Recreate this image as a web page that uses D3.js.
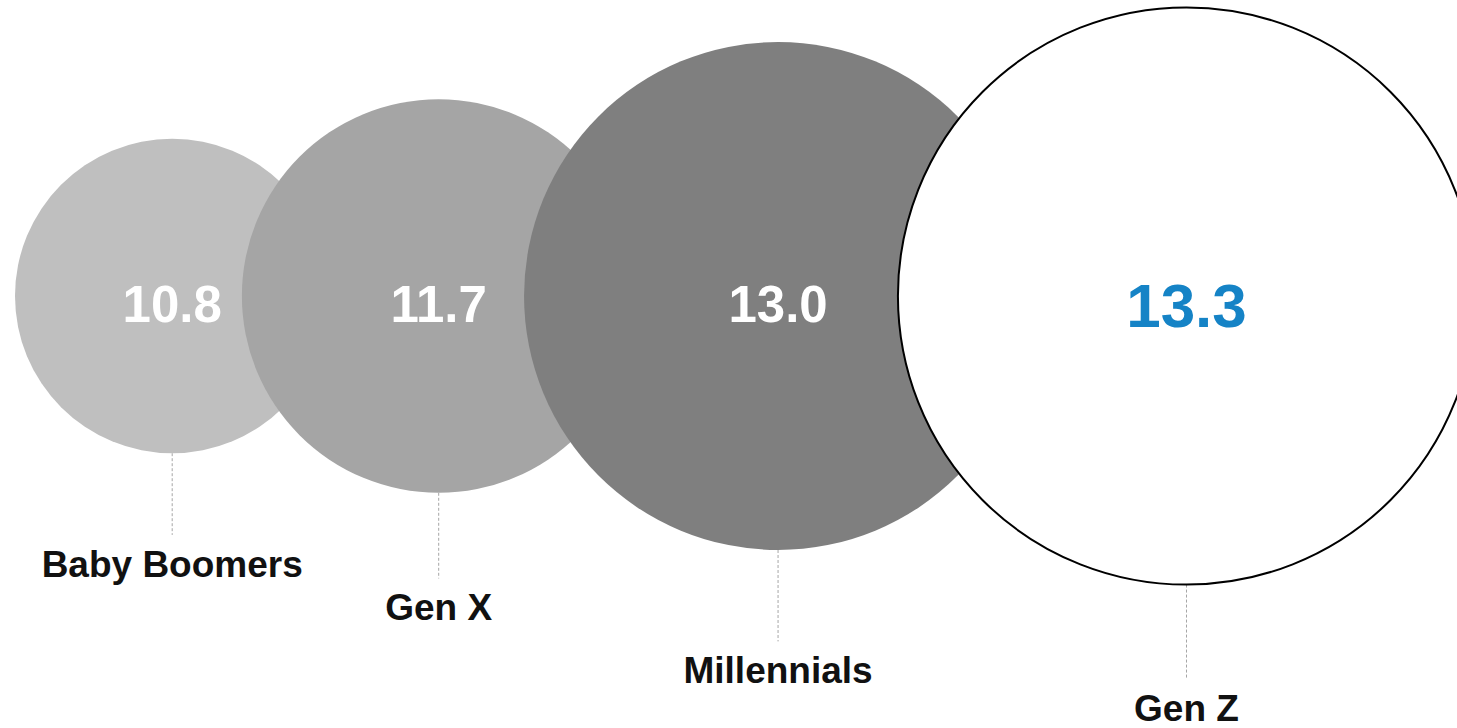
<!DOCTYPE html>
<html>
<head>
<meta charset="utf-8">
<script src="https://cdn.jsdelivr.net/npm/d3@7/dist/d3.min.js"></script>
<style>
  html, body { margin: 0; padding: 0; background: #fff; }
  svg { display: block; }
</style>
</head>
<body>
<svg id="chart" width="1457" height="728"></svg>
<script>
// Generations and their values
const generations = ["Baby Boomers", "Gen X", "Millennials", "Gen Z"];
const values = [10.8, 11.7, 13.0, 13.3];
const fills = ["#bfbfbf", "#a5a5a5", "#7f7f7f", "#ffffff"];
const highlight = "Gen Z";

const width = 1457, height = 728;
const svg = d3.select("#chart");

const fontFamily = "'Liberation Sans', Arial, Helvetica, sans-serif";
const cy = 296;
const leftMargin = 15;
const overlapFactor = 0.7528;   // centre spacing as a share of the two radii
const highlightBoost = 1.08;    // the featured bubble is drawn slightly larger

// radius scale
const r = d3.scaleLinear().domain([10, 14]).range([122, 298]);

// Build bubble layout: each bubble chained to the previous one
const bubbles = [];
generations.forEach((g, i) => {
  const isHi = g === highlight;
  const rad = r(values[i]) * (isHi ? highlightBoost : 1);
  let cx;
  if (i === 0) cx = leftMargin + rad;
  else {
    const p = bubbles[i - 1];
    cx = p.cx + overlapFactor * (p.r + rad);
  }
  bubbles.push({ name: g, value: values[i], fill: fills[i], r: rad, cx, isHi });
});

const fmt = d3.format(".1f");

// label baseline distance below each bubble
const labelOffset = d => 108 + 0.1 * d.r;

// leader lines (under bubbles)
svg.append("g").selectAll("line")
  .data(bubbles).join("line")
  .attr("x1", d => d.cx).attr("x2", d => d.cx)
  .attr("y1", d => cy + d.r)
  .attr("y2", d => cy + d.r + labelOffset(d) - 42)
  .attr("stroke", "#a6a6a6")
  .attr("stroke-width", 1)
  .attr("stroke-dasharray", "3,2");

// bubbles
svg.append("g").selectAll("circle")
  .data(bubbles).join("circle")
  .attr("cx", d => d.cx).attr("cy", cy)
  .attr("r", d => d.r)
  .attr("fill", d => d.fill)
  .attr("stroke", d => d.isHi ? "#000" : "none")
  .attr("stroke-width", d => d.isHi ? 2 : 0);

// values inside bubbles
svg.append("g").selectAll("text")
  .data(bubbles).join("text")
  .attr("x", d => d.cx).attr("y", cy)
  .attr("dy", "0.5em")
  .attr("text-anchor", "middle")
  .attr("font-family", fontFamily)
  .attr("font-weight", "bold")
  .attr("font-size", d => d.isHi ? 62 : 51)
  .attr("fill", d => d.isHi ? "#1583c6" : "#ffffff")
  .text(d => fmt(d.value));

// generation labels
svg.append("g").selectAll("text")
  .data(bubbles).join("text")
  .attr("x", d => d.cx)
  .attr("y", d => cy + d.r + labelOffset(d))
  .attr("text-anchor", "middle")
  .attr("font-family", fontFamily)
  .attr("font-weight", "bold")
  .attr("font-size", 37)
  .attr("fill", "#111")
  .text(d => d.name);
</script>
</body>
</html>
